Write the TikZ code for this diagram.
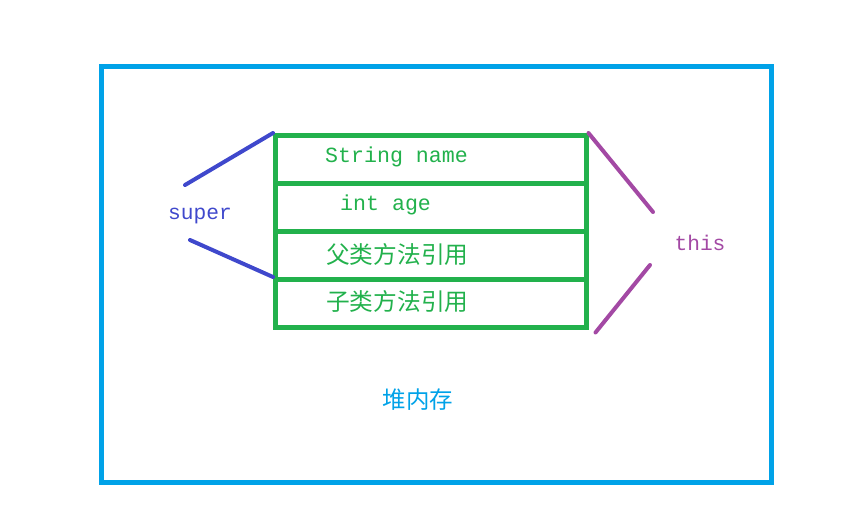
\documentclass[tikz,border=0pt]{standalone}
\usepackage{fontspec}
\setmonofont{Liberation Mono}
\newfontfamily\cjk{Noto Sans CJK SC}
\definecolor{gr}{HTML}{22B14C}
\definecolor{sky}{HTML}{00A2E8}
\definecolor{ind}{HTML}{3F48CC}
\definecolor{pur}{HTML}{A349A4}
\begin{document}
\begin{tikzpicture}[x=1pt,y=-1pt,
  outerbox/.style={draw=sky,line width=5pt,minimum width=670pt,minimum height=416pt,inner sep=0pt},
  rowbox/.style={draw=gr,line width=4.5pt,minimum width=311pt,minimum height=48pt,inner sep=0pt,anchor=north west},
  monotxt/.style={text=gr,font=\ttfamily\fontsize{21.6}{24}\selectfont,inner sep=0pt,anchor=west},
  cjktxt/.style={text=gr,font=\cjk\fontsize{23.7}{27}\selectfont,inner sep=0pt,anchor=west},
  superline/.style={draw=ind,line width=4pt,line cap=round},
  thisline/.style={draw=pur,line width=4pt,line cap=round}]
\useasboundingbox (0,0) rectangle (859,512);
\node[outerbox] (heap) at (436,274) {};
\node[rowbox] (r1) at (273,133) {};
\node[rowbox] (r2) at (273,181) {};
\node[rowbox] (r3) at (273,229) {};
\node[rowbox] (r4) at (273,277) {};
\node[monotxt] (t1) at (325,157) {String name};
\node[monotxt] (t2) at (340,205) {int age};
\node[cjktxt] (t3) at (326,254) {父类方法引用};
\node[cjktxt] (t4) at (326,301) {子类方法引用};
\node[text=ind,font=\ttfamily\fontsize{21.2}{24}\selectfont,inner sep=0pt] (sup) at (200,216) {super};
\node[text=pur,font=\ttfamily\fontsize{21.2}{24}\selectfont,inner sep=0pt] (thi) at (700,243) {this};
\node[text=sky,font=\cjk\fontsize{23.5}{27}\selectfont,inner sep=0pt] (heaplbl) at (418,400) {堆内存};
\coordinate (s1) at (185,185);
\coordinate (s2) at (190,240);
\coordinate (p1) at (653,212);
\coordinate (p2) at (650,265);
\draw[superline] (s1) -- (r1.north west);
\draw[superline] (s2) -- (r4.north west);
\draw[thisline] (r1.north east) -- (p1);
\draw[thisline] ([xshift=7pt,yshift=-3pt]r4.south east) -- (p2);
\end{tikzpicture}
\end{document}
